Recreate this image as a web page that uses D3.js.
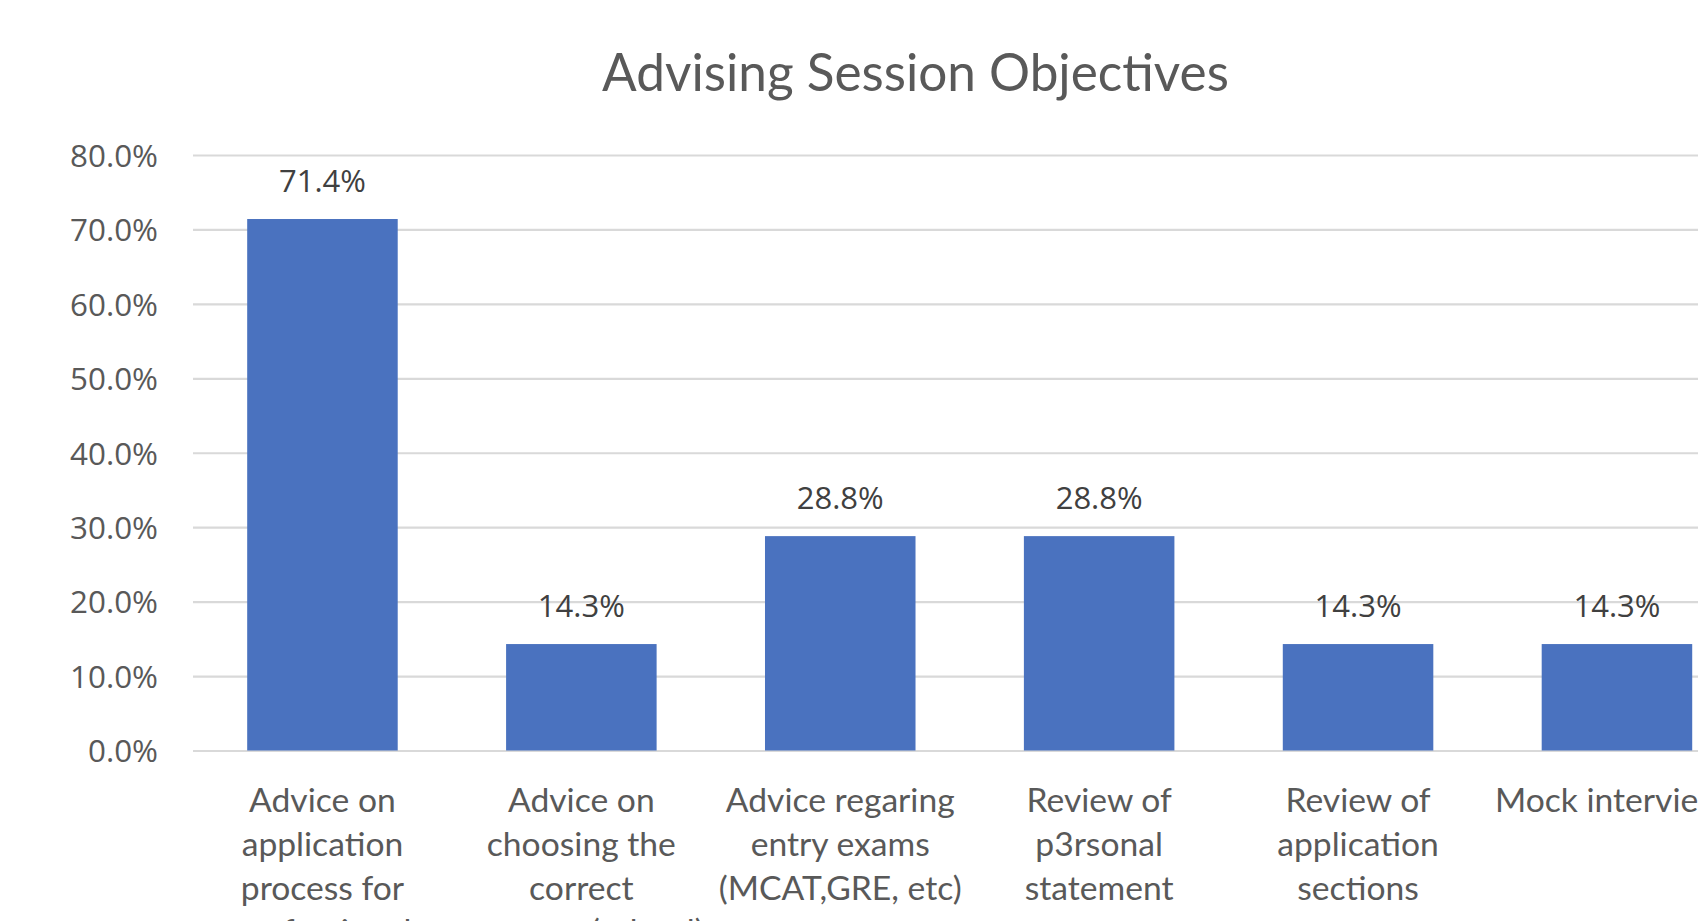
<!DOCTYPE html>
<html>
<head>
<meta charset="utf-8">
<script src="https://cdn.jsdelivr.net/npm/d3@7"></script>
<style>
  html, body { margin: 0; padding: 0; background: #ffffff; overflow: hidden; }
  svg { display: block; }
</style>
</head>
<body>
<svg id="chart" width="1698" height="921"></svg>
<script>
// Chart content
const chartTitle = "Advising Session Objectives";
const categoryLines = [
  ["Advice on", "application", "process for", "professional", "school"],
  ["Advice on", "choosing the", "correct", "program (school)"],
  ["Advice regaring", "entry exams", "(MCAT,GRE, etc)"],
  ["Review of", "p3rsonal", "statement"],
  ["Review of", "application", "sections"],
  ["Mock interviews"]
];
const values = [71.4, 14.3, 28.8, 28.8, 14.3, 14.3];
const yTicks = [0, 10, 20, 30, 40, 50, 60, 70, 80];

const svg = d3.select("#chart");

// Plot geometry (plot area runs past the right edge of the view)
const plotLeft = 193, plotTop = 155, plotBottom = 750.5;
const step = 258.9;
const plotRight = plotLeft + step * values.length;

const catKeys = categoryLines.map((d, i) => i);
const x = d3.scaleBand()
  .domain(catKeys)
  .range([plotLeft, plotRight])
  .paddingInner(0.72 / 1.72)
  .paddingOuter(0.36 / 1.72);

const y = d3.scaleLinear().domain([0, 80]).range([plotBottom, plotTop]);

// Fit a font size so that a sample string reaches a target width
function fitSize(family, weight, sample, targetWidth) {
  const t = svg.append("text")
    .attr("font-family", family)
    .attr("font-weight", weight)
    .attr("font-size", 100)
    .text(sample);
  const w = t.node().getComputedTextLength();
  t.remove();
  return 100 * targetWidth / w;
}

const catFont = "Lato, 'Open Sans', sans-serif";
const numFont = "'Open Sans', 'Noto Sans', sans-serif";

const titleSize = fitSize(catFont, 400, chartTitle, 627);
const catSize = fitSize(catFont, 400, "Advice regaring", 229);
const tickSize = fitSize(numFont, 400, "80.0%", 88);
const labelSize = fitSize(numFont, 400, "71.4%", 87);

// Gridlines and y-axis labels
const yAxis = d3.axisLeft(y)
  .tickValues(yTicks)
  .tickSize(-(plotRight - plotLeft))
  .tickPadding(35)
  .tickFormat(d => d3.format(".1f")(d) + "%");

const gAxis = svg.append("g")
  .attr("transform", `translate(${plotLeft},0)`)
  .call(yAxis);
gAxis.select(".domain").remove();
gAxis.selectAll(".tick line")
  .attr("stroke", "#d9d9d9")
  .attr("stroke-width", 2.2);
gAxis.selectAll(".tick text")
  .attr("fill", "#595959")
  .attr("font-family", numFont)
  .attr("font-size", tickSize)
  .attr("dy", "0.36em");

// Bars
svg.append("g").selectAll("rect")
  .data(values)
  .join("rect")
  .attr("x", (d, i) => x(i))
  .attr("y", d => y(d))
  .attr("width", x.bandwidth())
  .attr("height", d => y(0) - y(d))
  .attr("fill", "#4a72bf");

// Value labels above bars
svg.append("g").selectAll("text")
  .data(values)
  .join("text")
  .attr("x", (d, i) => x(i) + x.bandwidth() / 2)
  .attr("y", d => y(d) - 27)
  .attr("text-anchor", "middle")
  .attr("fill", "#404040")
  .attr("font-family", numFont)
  .attr("font-size", labelSize)
  .text(d => d3.format(".1f")(d) + "%");

// Category labels, wrapped over several lines
const lineGap = 43.8;
const firstBaseline = 812;
const catG = svg.append("g").selectAll("text")
  .data(categoryLines)
  .join("text")
  .attr("text-anchor", "middle")
  .attr("fill", "#595959")
  .attr("font-family", catFont)
  .attr("font-size", catSize);
catG.each(function(lines, i) {
  const cx = x(i) + x.bandwidth() / 2;
  d3.select(this).selectAll("tspan")
    .data(lines)
    .join("tspan")
    .attr("x", cx)
    .attr("y", (d, j) => firstBaseline + j * lineGap)
    .text(d => d);
});

// Title
svg.append("text")
  .attr("x", 915.5)
  .attr("y", 91)
  .attr("text-anchor", "middle")
  .attr("fill", "#595959")
  .attr("font-family", catFont)
  .attr("font-size", titleSize)
  .text(chartTitle);
</script>
</body>
</html>
